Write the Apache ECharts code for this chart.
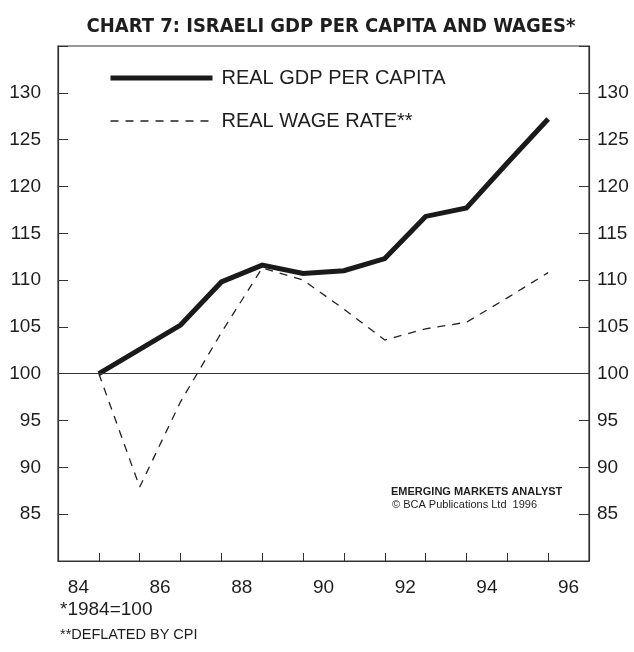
<!DOCTYPE html>
<html>
<head>
<meta charset="utf-8">
<title>Chart 7</title>
<script src="https://cdn.jsdelivr.net/npm/echarts@6/dist/echarts.min.js"></script>
<style>
  html, body { margin: 0; padding: 0; background: #fff; }
  #chart { width: 634px; height: 652px; }
</style>
</head>
<body>
<div id="chart"></div>
<script>
// year labels on the axis (one band per year)
const years = ['84', '85', '86', '87', '88', '89', '90', '91', '92', '93', '94', '95', '96'];
// observations, plotted at the end of each year band
const obsYears = [84, 85, 86, 87, 88, 89, 90, 91, 92, 93, 94, 95];
const gdpPerCapita = [100, 102.6, 105.2, 109.8, 111.6, 110.7, 111.0, 112.3, 116.8, 117.7, 122.5, 127.2];
const realWage = [100, 87.9, 97.0, 104.4, 111.3, 110.0, 106.9, 103.6, 104.8, 105.5, 108.1, 110.8];
const yTicks = [85, 90, 95, 100, 105, 110, 115, 120, 125, 130];

const font = 'Liberation Sans, Arial, sans-serif';
const ink = '#1e1e1e';

const chart = echarts.init(document.getElementById('chart'));

const toPoints = (vals) => vals.map((v, i) => [obsYears[i] + 1, v]);

const yAxisBase = {
    type: 'value',
    min: 80,
    max: 135,
    interval: 5,
    axisLine: { show: true, lineStyle: { color: '#333', width: 1.2 } },
    axisTick: { show: true, inside: true, length: 10, lineStyle: { color: '#333', width: 1 } },
    splitLine: { show: false },
    axisLabel: {
        color: ink, fontFamily: font, fontSize: 19,
        formatter: (v) => (yTicks.indexOf(v) >= 0 ? String(v) : '')
    }
};

chart.setOption({
    animation: false,
    title: {
        text: 'CHART 7: ISRAELI GDP PER CAPITA AND WAGES*',
        left: 326,
        top: 12,
        textAlign: 'center',
        textStyle: {
            fontFamily: 'Liberation Sans Narrow, DejaVu Sans Condensed, Arial Narrow, sans-serif',
            fontWeight: 'bold', fontSize: 20, color: ink
        }
    },
    legend: {
        orient: 'vertical',
        left: 108,
        top: 68,
        padding: 0,
        itemWidth: 102,
        itemHeight: 20,
        itemGap: 23,
        textStyle: { fontFamily: font, fontSize: 20, color: ink, padding: [0, 0, 0, 4] },
        data: [
            { name: 'REAL GDP PER CAPITA', itemStyle: { opacity: 0 }, lineStyle: { width: 5 } },
            { name: 'REAL WAGE RATE**', itemStyle: { opacity: 0 }, lineStyle: { width: 1.3 } }
        ]
    },
    grid: { left: 58, right: 45, top: 46, bottom: 91, show: true, borderColor: '#333', borderWidth: 1.2 },
    xAxis: [
        {
            type: 'category',
            data: years,
            boundaryGap: true,
            axisLine: { show: true, lineStyle: { color: '#333', width: 1.2 } },
            axisTick: { show: true, inside: true, interval: 0, length: 8, lineStyle: { color: '#333' } },
            axisLabel: { interval: 1, margin: 17, color: ink, fontFamily: font, fontSize: 19 },
            splitLine: { show: false }
        },
        {
            type: 'value',
            min: 84,
            max: 97,
            show: false
        }
    ],
    yAxis: [
        Object.assign({}, yAxisBase, { position: 'left', axisLabel: Object.assign({}, yAxisBase.axisLabel, { margin: 17 }) }),
        Object.assign({}, yAxisBase, { position: 'right', axisLabel: Object.assign({}, yAxisBase.axisLabel, { margin: 8 }) })
    ],
    series: [
        {
            name: 'REAL GDP PER CAPITA',
            type: 'line',
            xAxisIndex: 1,
            yAxisIndex: 0,
            data: toPoints(gdpPerCapita),
            symbol: 'none',
            lineStyle: { color: '#1a1a1a', width: 5, join: 'miter' },
            itemStyle: { color: '#1a1a1a' },
            z: 3,
            markLine: {
                silent: true,
                symbol: 'none',
                label: { show: false },
                lineStyle: { type: 'solid', color: '#333', width: 1.2 },
                data: [{ yAxis: 100 }]
            }
        },
        {
            name: 'REAL WAGE RATE**',
            type: 'line',
            xAxisIndex: 1,
            yAxisIndex: 0,
            data: toPoints(realWage),
            symbol: 'none',
            lineStyle: { color: '#222', width: 1.3, type: [8, 7] },
            itemStyle: { color: '#222' },
            z: 2
        }
    ],
    graphic: [
        {
            type: 'text', left: 391, top: 486,
            style: { text: 'EMERGING MARKETS ANALYST', fontFamily: font, fontWeight: 'bold', fontSize: 11, fill: ink }
        },
        {
            type: 'text', left: 392, top: 499,
            style: { text: '\u00a9 BCA Publications Ltd  1996', fontFamily: font, fontSize: 11, fill: ink }
        },
        {
            type: 'text', left: 60, top: 600,
            style: { text: '*1984=100', fontFamily: font, fontSize: 19, fill: ink }
        },
        {
            type: 'text', left: 60, top: 627,
            style: { text: '**DEFLATED BY CPI', fontFamily: font, fontSize: 14.5, fill: ink }
        }
    ]
});
</script>
</body>
</html>
